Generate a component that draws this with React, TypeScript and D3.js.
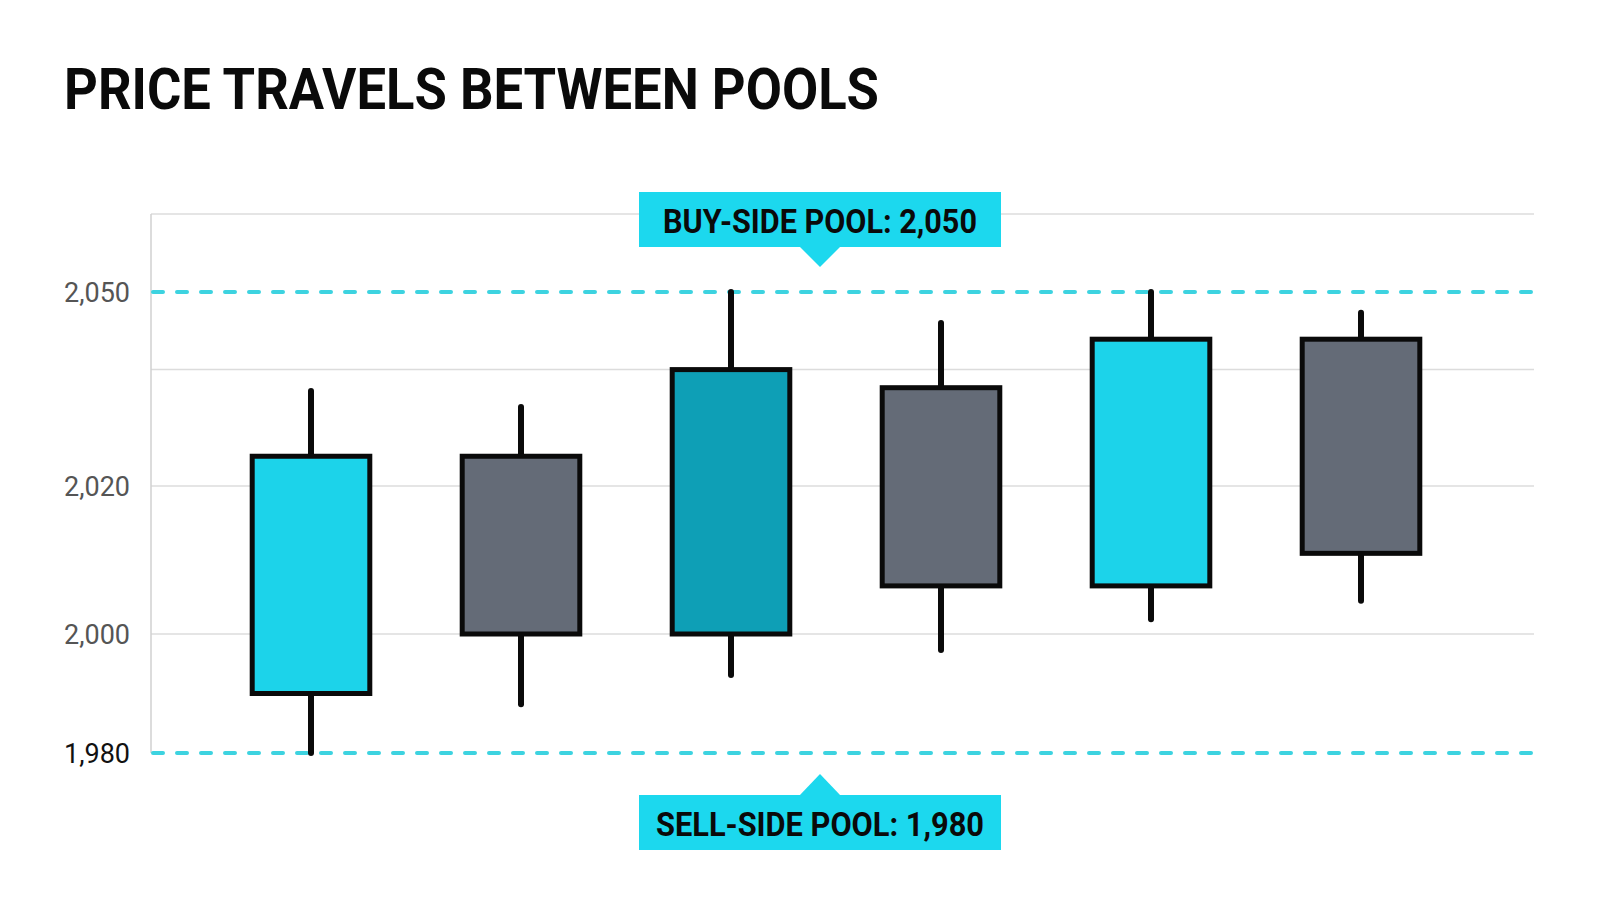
import React from "react";
import * as d3 from "d3";

// ---- Data ----
const categories = ["C1", "C2", "C3", "C4", "C5", "C6"];
const opens = [1990, 2024.6, 2000, 2035.2, 2006.5, 2042.7];
const closes = [2024.6, 2000, 2038, 2006.5, 2042.7, 2010.9];
const highs = [2034.7, 2032.2, 2050, 2045.2, 2050, 2046.8];
const lows = [1980, 1988.2, 1993.1, 1997.3, 2002, 2004.5];
const candleKinds = ["up", "down", "upStrong", "down", "up", "down"];

const tickValues = [2050, 2020, 2000, 1980];
const tickLabels = ["2,050", "2,020", "2,000", "1,980"];
const gridValues = [2062, 2038, 2020, 2000];
const buyPool = 2050;
const sellPool = 1980;
const buyLabel = "BUY-SIDE POOL: 2,050";
const sellLabel = "SELL-SIDE POOL: 1,980";
const title = "PRICE TRAVELS BETWEEN POOLS";

// ---- Layout ----
const W = 1600;
const H = 914;
const plotLeft = 151;
const plotRight = 1534;
const calloutX = 820;

const fills: Record<string, string> = {
  up: "#1CD3EA",
  down: "#646B77",
  upStrong: "#0E9FB6",
};

export default function App() {
  // piecewise linear scale matching the reference's axis placement
  const y = d3
    .scaleLinear()
    .domain([1980, 2000, 2020, 2050, 2062])
    .range([753, 634, 486, 292, 214]);

  const x = d3
    .scaleBand<string>()
    .domain(categories)
    .range([206, 1466])
    .paddingInner(0.44)
    .paddingOuter(0.22);

  const bw = x.bandwidth();

  const buyY = y(buyPool);
  const sellY = y(sellPool);

  const boxW = 362;
  const boxH = 55;

  return (
    <svg
      width={W}
      height={H}
      style={{ position: "absolute", left: 0, top: 0, background: "#fff" }}
      fontFamily="Roboto, 'Noto Sans', sans-serif"
    >
      <rect x={0} y={0} width={W} height={H} fill="#fff" />
      <text
        x={64}
        y={109}
        fontSize={58}
        fontWeight={700}
        fill="#0a0a0a"
        textLength={815}
        lengthAdjust="spacingAndGlyphs"
      >
        {title}
      </text>

      {/* gridlines */}
      {gridValues.map((v) => (
        <line
          key={v}
          x1={plotLeft}
          x2={plotRight}
          y1={y(v)}
          y2={y(v)}
          stroke="#dcdcdc"
          strokeWidth={1.5}
        />
      ))}
      {/* left axis line */}
      <line x1={plotLeft} x2={plotLeft} y1={y(2062)} y2={sellY} stroke="#d0d0d0" strokeWidth={1.5} />

      {/* y tick labels */}
      {tickValues.map((v, i) => (
        <text
          key={v}
          x={130}
          y={y(v)}
          dy="0.35em"
          textAnchor="end"
          fontSize={28}
          fontWeight={400}
          fill={v === 1980 ? "#111" : "#555"}
          textLength={66}
          lengthAdjust="spacingAndGlyphs"
        >
          {tickLabels[i]}
        </text>
      ))}

      {/* pool lines */}
      {[buyY, sellY].map((py, i) => (
        <line
          key={i}
          x1={plotLeft + 2}
          x2={plotRight - 2}
          y1={py}
          y2={py}
          stroke="#3DD3E0"
          strokeWidth={4}
          strokeDasharray="10 14"
          strokeLinecap="round"
        />
      ))}

      {/* candles */}
      {categories.map((c, i) => {
        const cx = (x(c) as number) + bw / 2;
        const top = y(Math.max(opens[i], closes[i]));
        const bot = y(Math.min(opens[i], closes[i]));
        return (
          <g key={c}>
            <line
              x1={cx}
              x2={cx}
              y1={y(highs[i])}
              y2={y(lows[i])}
              stroke="#0a0a0a"
              strokeWidth={6}
              strokeLinecap="round"
            />
            <rect
              x={x(c) as number}
              y={top}
              width={bw}
              height={bot - top}
              fill={fills[candleKinds[i]]}
              stroke="#0a0a0a"
              strokeWidth={5}
            />
          </g>
        );
      })}

      {/* buy-side callout */}
      <g>
        <rect x={calloutX - boxW / 2} y={buyY - 100} width={boxW} height={boxH} fill="#1CD8EE" />
        <path
          d={`M${calloutX - 21},${buyY - 46} L${calloutX + 21},${buyY - 46} L${calloutX},${buyY - 25} Z`}
          fill="#1CD8EE"
        />
        <text
          x={calloutX}
          y={buyY - 59}
          textAnchor="middle"
          fontSize={34}
          fontWeight={700}
          fill="#0a0a0a"
          textLength={314}
          lengthAdjust="spacingAndGlyphs"
        >
          {buyLabel}
        </text>
      </g>

      {/* sell-side callout */}
      <g>
        <rect x={calloutX - boxW / 2} y={sellY + 42} width={boxW} height={boxH} fill="#1CD8EE" />
        <path
          d={`M${calloutX - 21},${sellY + 43} L${calloutX + 21},${sellY + 43} L${calloutX},${sellY + 21} Z`}
          fill="#1CD8EE"
        />
        <text
          x={calloutX}
          y={sellY + 83}
          textAnchor="middle"
          fontSize={34}
          fontWeight={700}
          fill="#0a0a0a"
          textLength={328}
          lengthAdjust="spacingAndGlyphs"
        >
          {sellLabel}
        </text>
      </g>
    </svg>
  );
}
